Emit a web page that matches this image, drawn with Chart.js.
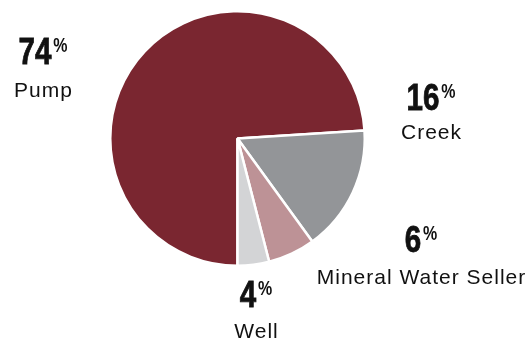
<!DOCTYPE html>
<html>
<head>
<meta charset="utf-8">
<script src="https://cdn.jsdelivr.net/npm/chart.js@4.4.1/dist/chart.umd.min.js"></script>
<style>
  html, body { margin: 0; padding: 0; background: #ffffff; }
  #wrap { width: 531px; height: 339px; }
</style>
</head>
<body>
<div id="wrap"><canvas id="pieSumber"></canvas></div>
<script>
// data sumber air
const labels = ["Pump", "Creek", "Mineral Water Seller", "Well"];
const values = [74, 16, 6, 4];
const colors = ["#7a2630", "#939598", "#bd9296", "#d3d4d6"];

// posisi label (x tengah, y baseline angka, y baseline nama)
const labelPos = [
    { x: 43, yNum: 64, yName: 97 },
    { x: 431, yNum: 110, yName: 139 },
    { x: 421, yNum: 252, yName: 284 },
    { x: 256, yNum: 307, yName: 338 },
];

const numFont = "bold 37px 'Liberation Sans', Arial, sans-serif";
const pctFont = "bold 20px 'Liberation Sans', Arial, sans-serif";
const nameFont = "21px 'Liberation Sans', Arial, sans-serif";
const squeeze = 0.8; // angka dibuat condensed

const labelPlugin = {
    id: "sliceLabels",
    afterDraw(chart) {
        const ctx = chart.ctx;
        const data = chart.data.datasets[0].data;
        ctx.save();
        ctx.fillStyle = "#111111";
        ctx.strokeStyle = "#111111";
        ctx.lineWidth = 0.8;
        ctx.textBaseline = "alphabetic";
        data.forEach((v, i) => {
            const p = labelPos[i];
            const num = String(v);
            ctx.font = numFont;
            const wNum = ctx.measureText(num).width * squeeze;
            ctx.font = pctFont;
            const wPct = ctx.measureText("%").width * squeeze;
            const x0 = p.x - (wNum + 2 + wPct) / 2;

            ctx.save();
            ctx.translate(x0, p.yNum);
            ctx.scale(squeeze, 1);
            ctx.textAlign = "left";
            ctx.font = numFont;
            ctx.fillText(num, 0, 0);
            ctx.strokeText(num, 0, 0);
            ctx.font = pctFont;
            ctx.fillText("%", (wNum + 2) / squeeze, -12.5);
            ctx.restore();

            ctx.font = nameFont;
            ctx.textAlign = "center";
            ctx.letterSpacing = "1px";
            ctx.fillText(chart.data.labels[i], p.x + 0.5, p.yName);
            ctx.letterSpacing = "0px";
        });
        ctx.restore();
    },
};

const ctx = document.getElementById("pieSumber").getContext("2d");
new Chart(ctx, {
    type: "pie",
    data: {
        labels: labels,
        datasets: [
            {
                data: values,
                backgroundColor: colors,
                borderColor: "#ffffff",
                borderWidth: 2.5,
            },
        ],
    },
    options: {
        responsive: true,
        maintainAspectRatio: false,
        animation: false,
        rotation: 180,
        layout: {
            padding: { left: 109, right: 165, top: 10, bottom: 72 },
        },
        plugins: {
            legend: { display: false },
            tooltip: { enabled: false },
        },
    },
    plugins: [labelPlugin],
});
</script>
</body>
</html>
